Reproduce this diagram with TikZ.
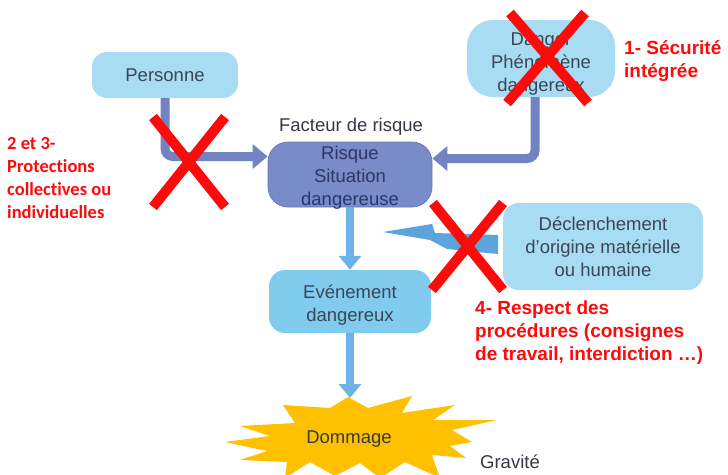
\documentclass[tikz,border=0pt]{standalone}
\usepackage{fontspec}
\setmainfont{Liberation Sans}
\newfontfamily\calibrifont[Ligatures=NoCommon]{Carlito}
\usetikzlibrary{arrows.meta,calc}

\definecolor{boxlight}{HTML}{A8DCF2}
\definecolor{eventblue}{HTML}{80CBEE}
\definecolor{riskfill}{HTML}{7A8BC9}
\definecolor{riskedge}{HTML}{6A7BBB}
\definecolor{slate}{HTML}{7183C2}
\definecolor{flowblue}{HTML}{6DB3E6}
\definecolor{boltblue}{HTML}{5CA4DC}
\definecolor{burstgold}{HTML}{FFC000}
\definecolor{boxtext}{HTML}{3A4656}
\definecolor{risktext}{HTML}{2C3668}
\definecolor{plaintext}{HTML}{333A42}
\definecolor{warnred}{HTML}{FF0A0A}

\tikzset{
  box/.style={rounded corners=#1, inner sep=0pt},
  boxlabel/.style={align=center, inner sep=0pt, text=boxtext},
  slatearrow/.style={draw=slate, line width=9pt, rounded corners=8pt,
    -{Triangle[width=24pt,length=15pt]}},
  flowarrow/.style={draw=flowblue, line width=8pt,
    -{Triangle[width=22pt,length=14pt]}},
  cross/.style={draw=warnred, line width=10pt},
  redbold/.style={text=warnred, font=\bfseries\fontsize{19}{23}\selectfont,
    align=left, inner sep=0pt, anchor=west},
  redcal/.style={text=warnred, font=\calibrifont\bfseries\fontsize{18.5}{23.3}\selectfont,
    align=left, inner sep=0pt, anchor=west}
}

\begin{document}
\begin{tikzpicture}[x=1pt,y=-1pt,font=\fontsize{18.5}{22.8}\selectfont]
\useasboundingbox (0,0) rectangle (728,474);
\fill[white] (0,0) rectangle (728,474);

% damage burst
\begin{scope}
\clip (0,0) rectangle (728,474);
\fill[burstgold] (348,397) -- (368,408) -- (412,396) -- (402,413) -- (455,405)
  -- (433,420) -- (497,420) -- (452,430) -- (472,442) -- (450,446) -- (466,458)
  -- (432,455) -- (440,478) -- (405,462) -- (380,478) -- (360,463) -- (335,476)
  -- (310,462) -- (285,478) -- (287,462) -- (240,460) -- (267,451) -- (225,442)
  -- (270,436) -- (240,426) -- (295,423) -- (283,405) -- (330,408) -- cycle;
\end{scope}
\node[text=plaintext] (dommage) at (349,439) {Dommage};
\coordinate (burst) at (349,398);

% boxes
\node[box=15pt, fill=boxlight, minimum width=146pt, minimum height=46pt]
  (personne) at (165,75) {};
\node[boxlabel] (personnetxt) at (personne) {Personne};

\node[box=26pt, fill=boxlight, minimum width=148pt, minimum height=77pt]
  (danger) at (541,58.5) {};
\node[boxlabel] (dangertxt) at ($(danger)+(0,5.5)$) {Danger\\Phénomène\\dangereux};

\node[box=20pt, fill=riskfill, draw=riskedge, line width=0.8pt,
  minimum width=164pt, minimum height=65pt] (risque) at (350,174.5) {};
\node[boxlabel, text=risktext] (risquetxt) at ($(risque)+(0,3)$) {Risque\\Situation\\dangereuse};
\node[text=plaintext, inner sep=0pt] (facteur) at (351,127) {Facteur de risque};

\node[box=16pt, fill=eventblue, minimum width=162pt, minimum height=63pt]
  (evenement) at (350,301.5) {};
\node[boxlabel] (evenementtxt) at ($(evenement)+(0,3.5)$) {Evénement\\dangereux};

\node[box=16pt, fill=boxlight, minimum width=200pt, minimum height=87pt]
  (declenchement) at (603,246.5) {};
\node[boxlabel] (declenchementtxt) at (declenchement) {Déclenchement\\d’origine matérielle\\ou humaine};

\node[text=plaintext, inner sep=0pt] (gravite) at (510,462) {Gravité};

% lightning bolt from the triggering event
\fill[boltblue] (383,232) -- (432,224) -- (435,233) -- (498,235) -- (498,254)
  -- (447,249) -- (430,240) -- cycle;

% connectors
\draw[slatearrow] (personne.south) |- ($(risque.west)+(0,-18)$);
\draw[slatearrow] ($(danger.south)+(-6,0)$) |- ($(risque.east)+(0,-16)$);
\draw[flowarrow] (risque.south) -- (evenement.north);
\draw[flowarrow] (evenement.south) -- (evenement.south |- burst);

% red crosses
\draw[cross] (510,13) -- (588,103);
\draw[cross] (585,13) -- (507,103);
\draw[cross] (153,117) -- (225,207);
\draw[cross] (225,117) -- (153,207);
\draw[cross] (433,203) -- (503,290);
\draw[cross] (503,203) -- (432,290);

% red annotations
\node[redbold] (secu) at (624,61) {1- Sécurité\\intégrée};
\node[redcal] (protec) at (7,178) {2 et 3-\\Protections\\collectives ou\\individuelles};
\node[redbold] (proc) at (475,333) {4- Respect des\\procédures (consignes\\de travail, interdiction …)};
\end{tikzpicture}
\end{document}
